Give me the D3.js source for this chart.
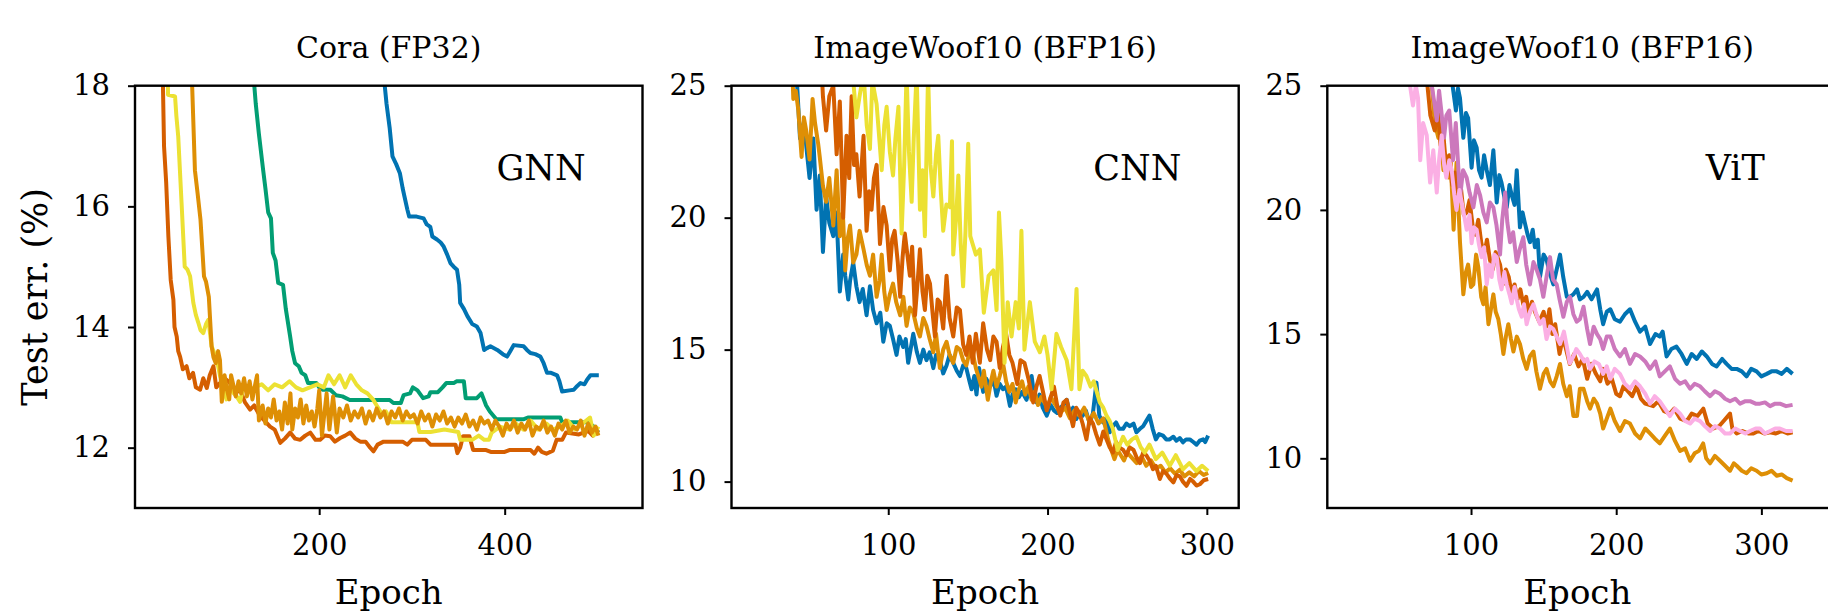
<!DOCTYPE html>
<html>
<head>
<meta charset="utf-8">
<script src="https://cdn.jsdelivr.net/npm/d3@7"></script>
<style>
  body { margin: 0; background: #fff; }
  svg { display: block; }
  text { font-family: "DejaVu Serif", "Liberation Serif", serif; fill: #000; }
</style>
</head>
<body>
<div id="chart"></div>
<script>
/* global d3 */

// ---- data: [epoch, test error %] ----

// Cora (FP32), GNN
var coraBlue = [[267,20],[269.4,18.2],[272.6,17.7],[276,17.3],[279,16.83],[283,16.7],[287,16.55],[290,16.3],[292,16.16],[295,15.95],[297,15.83],[305,15.83],[312.6,15.8],[316,15.7],[319.8,15.66],[322,15.5],[327,15.45],[331,15.4],[334,15.34],[338,15.2],[341.5,15.06],[345,15.0],[348.6,14.95],[351,14.7],[352,14.4],[356,14.3],[359.8,14.18],[365,14.05],[370,14.01],[374,13.9],[377.8,13.62],[381,13.65],[384.6,13.68],[392,13.62],[398,13.55],[402.6,13.51],[406,13.6],[409.8,13.7],[420.5,13.68],[424,13.62],[427.7,13.57],[433,13.55],[438.5,13.51],[442,13.4],[445.7,13.24],[450,13.24],[456.5,13.2],[459,13.1],[461.9,12.93],[470,12.95],[474.5,12.96],[478,13.02],[481.7,13.07],[486,13.05],[489,13.13],[492.5,13.2],[501.5,13.2]];
var coraGreen = [[127,20],[129,18.2],[131.6,17.7],[135,17.2],[139.6,16.6],[142,16.3],[145,15.9],[148,15.8],[150,15.23],[153,15.1],[155.8,14.73],[161,14.7],[164,14.3],[168.7,13.84],[171,13.6],[174,13.4],[178,13.35],[181,13.24],[185,13.2],[188,13.07],[197,13.07],[200,13.0],[204,12.96],[212,12.96],[218,12.87],[225,12.85],[233,12.79],[250,12.79],[276,12.79],[280,12.74],[288,12.74],[291,12.87],[298,12.9],[301,13.0],[306,12.95],[312,12.82],[318,12.85],[320,12.92],[328,12.92],[333,13.0],[337,13.07],[345,13.07],[348,13.1],[356,13.1],[358,12.82],[370,12.82],[375,12.9],[380,12.7],[384,12.6],[391,12.47],[420,12.47],[425,12.5],[460,12.5],[462,12.42],[490,12.42],[496,12.35],[501,12.25]];
var coraVermilion = [[29,20],[31.3,18.2],[32.7,17.0],[35,16.4],[37.4,15.5],[39.9,14.78],[42.8,14.45],[44,14.0],[46.4,13.84],[48,13.6],[50,13.51],[53,13.3],[57,13.35],[60,13.15],[64,13.24],[67,13.0],[71.6,12.96],[75,13.15],[78.8,12.99],[82,13.2],[86,13.35],[89,13.0],[93,13.07],[98,13.15],[104,13.07],[109,12.9],[114.7,12.96],[120,12.75],[125.5,12.63],[130,12.7],[136.3,12.52],[141,12.45],[147,12.35],[152,12.3],[158,12.08],[163,12.15],[168.7,12.25],[174,12.15],[179.6,12.13],[185,12.2],[190.4,12.25],[196,12.13],[201,12.13],[206,12.2],[211.9,12.19],[217,12.1],[222.7,12.16],[228,12.2],[233.5,12.25],[239,12.15],[244.3,12.1],[250,12.1],[255,12.0],[258.6,11.94],[263,12.05],[269.4,12.1],[280,12.1],[290,12.1],[295,12.05],[300,12.13],[315,12.13],[320,12.05],[335,12.05],[347,12.05],[349,11.91],[352,12.0],[355,12.19],[362,12.19],[366,11.96],[380,11.96],[385,11.93],[400,11.93],[405,11.96],[420,11.96],[428,11.96],[432,11.9],[436,12.0],[440,11.93],[445,11.9],[452,11.95],[456,12.13],[462,12.13],[466,12.25],[480,12.22],[490,12.28],[495,12.2],[501,12.3]];
var coraYellow = [[35,20],[37,17.85],[44.6,17.82],[46,17.5],[48,17.16],[51.6,16.06],[55,15.0],[58,14.95],[60.8,14.84],[64.3,14.4],[67,14.2],[69.7,14.07],[72,13.95],[75,13.9],[78,14.05],[80.5,14.12],[84,13.68],[89.6,13.46],[93,13.2],[96,13.05],[100,12.8],[104,13.0],[108,12.9],[111,12.85],[114.7,12.76],[118,13.0],[125,12.95],[130,13.0],[138,13.05],[145,12.95],[152,13.05],[160,13.0],[168,13.1],[175,13.0],[182,12.95],[190,13.0],[198,13.05],[205,13.0],[210,13.2],[216,13.05],[222,13.2],[228,13.0],[234,13.2],[240,13.05],[246,12.95],[252,12.9],[258,12.8],[262,12.7],[268,12.55],[272,12.6],[278,12.42],[290,12.42],[306,12.42],[308,12.26],[320,12.26],[335,12.3],[350,12.26],[352,12.13],[365,12.13],[372,12.2],[378,12.13],[383,12.13],[386,12.25],[395,12.35],[405,12.3],[412,12.4],[420,12.3],[428,12.45],[436,12.3],[445,12.4],[452,12.3],[460,12.35],[468,12.45],[476,12.3],[484,12.4],[492,12.5],[496,12.2],[501,12.35]];
var coraOrange = [[60,20],[62.6,18.2],[66,16.6],[69,16.2],[72,15.78],[75.8,14.84],[78,14.75],[81,14.5],[84,13.68],[86,13.5],[88.5,13.4],[91,13.6],[93,13.45],[95,12.76],[98,13.2],[100,13.0],[103,12.8],[105,13.2],[108,13.0],[110,12.85],[113,13.1],[116,12.9],[119,13.15],[122,12.85],[125,13.1],[128,12.8],[131,13.05],[133,13.2],[135,12.45],[139,12.7],[142,12.4],[145,12.65],[148,12.5],[151,12.8],[154,12.45],[157,12.6],[160,12.3],[163,12.75],[166,12.4],[169,12.9],[171,12.3],[174,12.65],[177,12.5],[180,12.8],[183,12.4],[186,12.7],[189,12.45],[192,12.6],[195,12.35],[198,12.65],[200,12.95],[203,12.2],[208,12.9],[211,12.3],[215,12.85],[219,12.25],[222,12.65],[226,12.5],[230,12.7],[234,12.45],[238,12.6],[242,12.5],[246,12.65],[250,12.4],[254,12.6],[258,12.45],[262,12.65],[266,12.5],[270,12.6],[274,12.4],[278,12.6],[282,12.5],[286,12.65],[290,12.45],[294,12.6],[298,12.5],[302,12.55],[306,12.4],[310,12.6],[314,12.45],[318,12.55],[322,12.35],[326,12.55],[330,12.45],[334,12.6],[338,12.4],[342,12.5],[346,12.35],[350,12.5],[354,12.4],[358,12.55],[362,12.35],[366,12.45],[370,12.3],[374,12.5],[378,12.4],[382,12.45],[386,12.3],[390,12.45],[394,12.35],[398,12.2],[402,12.4],[406,12.3],[410,12.45],[414,12.25],[418,12.4],[422,12.3],[426,12.45],[430,12.2],[434,12.35],[438,12.3],[442,12.45],[446,12.25],[450,12.35],[454,12.2],[458,12.4],[462,12.3],[466,12.45],[470,12.25],[474,12.35],[478,12.3],[482,12.45],[486,12.2],[490,12.4],[494,12.25],[498,12.35],[501,12.2]];

// ImageWoof10 (BFP16), CNN
var cnnBlue = [[41,27],[43,24.8],[44.6,23.0],[47,23.6],[50.6,21.5],[53,23.0],[55,20.3],[57,21.6],[59,18.7],[61,20.8],[63,19.8],[65.5,19.3],[67.5,20.2],[69.6,17.2],[71.7,18.6],[73,17.8],[74.9,16.9],[76,17.6],[78,18.3],[80,17.4],[82,16.8],[84,17.3],[86.4,16.3],[88.5,17.4],[90.5,16.5],[92.7,16.0],[95,16.4],[96.9,15.3],[99,16.0],[101,15.9],[103,15.4],[105.2,14.8],[107,15.5],[109.4,15.1],[111,15.4],[112.5,14.5],[114,15.0],[115.7,15.6],[118,14.9],[119.9,14.5],[122,15.0],[124,14.6],[126,14.9],[128.3,14.3],[130,14.8],[132.4,14.6],[134.5,14.1],[136.6,14.4],[138.5,14.8],[140.8,14.5],[143,14.2],[145,14.0],[147,14.4],[149,14.3],[151,13.8],[152.3,13.5],[154,14.0],[155.4,13.3],[157,14.3],[159.6,13.4],[161.5,13.9],[164,13.6],[166,13.9],[168,13.25],[170,13.7],[172,13.5],[174,13.6],[176.4,12.87],[178,13.3],[180,13.5],[182,13.2],[184,13.4],[186.8,13.1],[188.5,13.5],[190,14.0],[191.5,13.3],[193,13.0],[195,13.3],[197,12.8],[199.5,12.5],[202,12.9],[204,12.7],[206,12.6],[208,12.8],[210,12.9],[212,13.1],[213.9,12.6],[216,12.8],[218,12.37],[220,12.6],[222,12.5],[224,12.7],[226.5,12.2],[228.5,12.6],[230.7,13.75],[232.5,12.5],[234.9,12.24],[237,12.4],[239,11.87],[241,12.1],[243,12.24],[245,12.0],[247.4,12.0],[249.5,12.2],[251.6,12.1],[254,12.2],[255.8,11.87],[258,12.0],[260,12.1],[262,12.3],[264,12.5],[266,12.0],[268,11.6],[270,11.8],[272.5,11.74],[274.5,11.6],[276.7,11.6],[279,11.7],[280.9,11.55],[283,11.65],[285,11.49],[287,11.6],[289.3,11.6],[291.5,11.5],[293.5,11.4],[295.5,11.55],[297.7,11.6],[299,11.5],[300.8,11.74]];
var cnnOrange = [[39,27],[40.4,24.5],[42,24.8],[43.5,24.1],[45.6,22.3],[47,23.8],[48.5,23.3],[50.6,22.2],[52.5,24.5],[54,23.6],[56,22.8],[57,22.3],[59,21.2],[61,20.6],[63,21.5],[65.5,19.7],[67.6,21.8],[69.6,19.3],[71.5,20.2],[73,18.0],[74.5,19.2],[76,19.7],[78,18.3],[80,18.6],[82,19.5],[84.5,18.8],[86.5,18.2],[88.5,17.8],[90.5,18.6],[92.7,17.0],[94.5,17.6],[95.9,18.6],[97.5,17.2],[99,16.5],[101,17.1],[103,17.5],[105,16.8],[107.5,16.3],[109.5,17.0],[111.5,15.9],[113.5,16.6],[115.7,16.4],[118,15.8],[119.9,15.5],[122,16.2],[124,15.9],[126,15.4],[128.3,14.9],[130,15.6],[132.4,14.3],[134.5,15.0],[136.6,15.3],[138.5,14.8],[140.8,14.5],[143,15.1],[145,15.0],[147,14.6],[149,14.4],[151,14.9],[153.3,14.8],[155,14.3],[156.5,14.0],[158.5,13.6],[160,14.2],[162.5,13.1],[164.5,13.8],[166,14.2],[168,13.6],[170,14.0],[172,14.5],[174,13.8],[176,13.4],[178,13.7],[180,13.0],[182,13.5],[184,13.8],[186,13.3],[188,13.6],[190,13.1],[192,13.4],[194,12.9],[196,13.2],[198,13.0],[200,12.8],[202,13.2],[205,12.9],[208,12.6],[211,12.8],[214,12.4],[217,12.7],[220,12.5],[223,12.8],[226,12.3],[229,12.6],[232,12.2],[235,12.4],[238,11.6],[240,11.2],[242,10.85],[244,11.2],[246,11.0],[248,10.8],[250,11.1],[253,10.9],[256,10.7],[259,10.95],[262,10.6],[265,10.8],[268,10.5],[271,10.6],[274,10.35],[277,10.5],[280,10.3],[283,10.45],[286,10.2],[289,10.35],[292,10.2],[295,10.4],[298,10.25],[300.8,10.33]];
var cnnVermilion = [[57,27],[59,24.6],[61,23.3],[63,24.6],[65.5,25.0],[67.6,22.4],[69.6,24.4],[71.7,20.0],[73.8,23.1],[75.5,21.5],[77,24.6],[78.5,22.0],[80,22.4],[82,20.8],[84.5,23.1],[86.4,19.5],[88,21.0],[89.5,20.3],[91,21.5],[92.7,22.0],[94.8,19.0],[97,20.4],[99,19.7],[101,18.0],[102.5,19.2],[104,19.5],[106,18.3],[107.5,17.0],[109,18.5],[110.4,19.4],[112,18.6],[113.6,17.8],[115,18.9],[116.8,16.3],[118.5,17.6],[119.9,18.8],[121.5,17.2],[123,16.5],[124.5,17.8],[126.2,17.5],[127.8,16.4],[129.3,15.5],[131,16.9],[132.4,16.8],[134.5,15.8],[136.6,17.8],[138.5,16.2],[140.8,15.5],[143,16.6],[145,16.5],[147,15.2],[149,14.8],[151,15.5],[153,14.5],[155,15.6],[157.5,14.5],[159.6,16.0],[162,15.0],[164,14.6],[166,15.5],[168,15.3],[170,14.3],[172,15.1],[174,15.6],[176,14.8],[178,14.5],[181,13.7],[183,14.6],[185.5,14.5],[188,13.9],[191,13.0],[193,13.6],[195,14.0],[197.5,13.3],[199.5,12.7],[202,13.2],[204,13.6],[206,12.9],[208,12.5],[210,13.0],[212,13.1],[214,12.6],[216,12.1],[218,12.8],[220,12.6],[222,12.2],[224.4,11.6],[226.5,12.4],[228.5,12.2],[230.5,11.8],[232.8,11.4],[235,11.9],[237,11.6],[239,11.3],[241,11.1],[243,11.5],[245,11.3],[247.5,11.2],[249.5,11.0],[251.5,11.3],[254,11.2],[256,10.9],[258,10.7],[260,11.1],[262,11.0],[264,10.8],[266.2,10.47],[268,10.6],[270.5,10.1],[272.5,10.4],[274.6,10.3],[277,10.1],[279,9.97],[281,10.25],[283,10.2],[285,10.0],[287.2,9.84],[289.5,10.1],[291.4,10.0],[293.5,9.85],[295.6,9.9],[298,10.05],[300.8,10.1]];
var cnnYellow = [[76,27],[78,25.2],[80,23.8],[82,24.6],[84.5,25.5],[86.5,23.5],[88.5,22.6],[90,25.2],[92.7,24.3],[94.5,22.9],[95.9,21.8],[97.5,23.5],[99,24.2],[101,22.5],[103,21.6],[104.5,23.0],[106.4,24.2],[108.4,19.4],[110,22.0],[111.5,25.5],[113,22.5],[114.7,20.6],[116,23.0],[117.8,25.5],[119.9,20.3],[121.5,21.8],[123,19.3],[125,25.5],[126.5,22.0],[128.3,20.8],[130,22.4],[131.4,23.1],[133,21.0],[134.5,19.5],[136.5,20.5],[138.7,20.4],[140,22.9],[140.8,18.6],[142.5,19.9],[144,21.6],[145.5,19.0],[147,17.4],[148.5,19.5],[150.2,22.8],[151.5,19.3],[153,19.0],[155,18.6],[157.5,18.8],[160,16.4],[163,17.8],[166,18.0],[168,16.5],[169.5,20.2],[171,18.4],[173,14.5],[175,16.8],[177.4,15.5],[180,16.8],[182,15.8],[183.6,19.5],[185.5,15.0],[188.9,16.8],[192,15.3],[195.2,14.9],[198,15.5],[200,14.8],[202.5,13.5],[205.6,15.6],[208.5,15.1],[212,14.6],[215,13.5],[218.2,17.3],[220,13.5],[222,14.2],[224.4,14.0],[227,13.6],[229,13.8],[232.8,13.0],[235,12.8],[237,12.5],[239,12.3],[241,12.0],[244,11.2],[247.4,11.7],[250,11.4],[253,11.6],[255.8,11.7],[258.5,11.3],[261,11.1],[264,11.4],[268,10.85],[272,11.1],[276.7,10.6],[280.5,11.0],[285,10.47],[289,10.7],[293.5,10.4],[297,10.6],[300.8,10.4]];

// ImageWoof10 (BFP16), ViT
var vitBlue = [[85,27],[87.3,25.0],[89.6,24.0],[91,24.9],[92.4,24.5],[94.7,22.9],[96.5,23.9],[98,23.7],[100.4,21.7],[102,22.8],[103.9,22.5],[105.5,21.6],[107.3,21.3],[109,22.2],[110.8,21.6],[113,21.0],[115.4,22.4],[117.7,20.3],[119.5,21.4],[121,21.1],[123,20.5],[124.6,20.1],[126.5,21.0],[128,20.6],[130,20.2],[131.5,21.6],[133.7,19.3],[135.5,19.9],[137,19.5],[139,19.0],[140.6,18.7],[142.5,19.2],[144,18.5],[146,18.8],[147.5,17.3],[150,18.2],[152,18.0],[154.5,17.4],[156.7,17.0],[159,17.6],[161.3,18.2],[163.5,17.3],[166,16.5],[168,16.5],[170.5,16.6],[173,16.8],[175,16.4],[177.5,16.5],[180,16.7],[183,16.4],[186.8,16.8],[189,16.0],[191,15.4],[193.5,15.9],[196,16.0],[199,15.6],[202.6,15.5],[206,15.8],[209.5,16.0],[213,15.5],[216.4,15.1],[220,15.3],[223.3,14.6],[227,15.0],[230,14.9],[232,15.1],[234.7,14.1],[238,14.4],[241.5,14.5],[245,14.2],[248.6,13.8],[252,14.2],[255.5,14.0],[259,14.3],[262.4,14.1],[266,13.8],[269.2,13.7],[273,14.0],[276,13.8],[279.5,13.6],[283,13.6],[286.5,13.5],[289.8,13.3],[293,13.6],[296.7,13.5],[300,13.3],[303.7,13.4],[307,13.5],[310.6,13.5],[314,13.4],[317.5,13.6],[321.5,13.4]];
var vitOrange = [[71,27],[73,25.0],[75,23.5],[77.5,22.9],[79,23.4],[81,21.6],[82.5,22.2],[84.4,21.3],[86,22.0],[88,19.2],[90,21.9],[92.4,18.7],[94.7,16.6],[96.5,17.5],[98,17.8],[100,16.9],[101.6,17.0],[103.5,18.2],[105,17.7],[107,16.5],[108.5,16.2],[110,16.9],[112,15.4],[114,16.1],[115.4,16.6],[117,15.9],[118.8,15.6],[120.5,15.0],[122.3,14.2],[124,14.9],[125.7,15.4],[127.5,14.8],[129.2,14.3],[131.5,14.9],[133.7,14.6],[136,14.0],[138.3,13.6],[140.5,14.1],[143,14.3],[145,13.5],[147.5,12.8],[150,13.4],[152,13.6],[154.5,13.1],[156.7,12.9],[159,13.3],[161.3,13.8],[163.5,13.0],[166,12.5],[168,12.9],[170.5,11.7],[173,11.7],[175,12.8],[177.5,12.8],[180,12.3],[182,12.0],[184.5,12.4],[186.8,12.2],[189,11.8],[191,11.2],[193.5,11.6],[196,12.0],[199,11.5],[202.6,11.1],[206,11.5],[209.5,11.4],[213,11.0],[216.4,10.8],[220,11.2],[223.3,11.0],[226.5,10.8],[230,10.6],[233.5,10.9],[237,11.2],[240.5,10.7],[244,10.3],[247.5,10.4],[250.9,9.9],[254,10.2],[257,10.3],[259.9,10.6],[262,10.0],[264.7,9.8],[268,10.1],[271.5,9.9],[275,9.7],[278.4,9.5],[281,9.8],[283,9.7],[286.5,9.5],[289.8,9.4],[293,9.6],[296.7,9.5],[300,9.35],[303.7,9.4],[307,9.5],[310.6,9.3],[314,9.35],[317.5,9.2],[321.5,9.1]];
var vitVermilion = [[68,27],[70,25.0],[72,23.8],[75,23.2],[77,24.2],[79,22.6],[81,23.0],[83,21.6],[85,22.2],[87,21.0],[89,21.5],[91,20.5],[93,20.9],[95,19.8],[97,19.9],[99,20.4],[101,19.4],[103,19.0],[105,19.6],[107,18.7],[109,18.2],[111,18.8],[113,18.0],[115,17.6],[117,18.3],[120,17.8],[122,17.0],[124,17.6],[126,17.3],[128,16.6],[130,17.0],[132,16.4],[134,16.8],[136,16.2],[138,16.5],[140,15.8],[142,16.3],[144,15.9],[147,15.5],[150,15.9],[152,15.3],[154,16.0],[156,15.0],[158,15.4],[161,14.2],[163,14.8],[165,14.5],[168,13.8],[171,14.2],[174,13.7],[177,14.0],[180,13.2],[183,13.8],[186,13.4],[189,13.1],[191,13.6],[194,13.0],[197,13.2],[200,12.6],[202.6,12.5],[205,12.9],[208,12.7],[211,12.5],[214,12.9],[217,12.4],[220,12.2],[225.5,12.1],[229,12.3],[233,11.9],[237,11.8],[240,12.0],[244,11.6],[248.6,11.5],[252,11.8],[256,11.7],[260,12.0],[263,11.4],[267,11.2],[271,11.3],[274,11.5],[278.4,11.8],[280,11.2],[283,11.0],[287,11.1],[291,11.0],[294.5,11.0],[298,11.1],[302,11.0],[306,11.05],[310,11.0],[314,11.1],[318,11.0],[321.5,11.05]];
var vitPurple = [[71,27],[73,25.0],[75,24.2],[76.4,23.6],[78,24.8],[79.5,24.0],[81.4,22.9],[83,23.8],[85,24.0],[87.6,22.0],[89.5,23.5],[92.4,20.5],[94.5,21.6],[97,21.3],[99,20.7],[101.6,20.1],[104,21.0],[106.2,20.6],[108.5,19.9],[110.8,19.5],[113,20.3],[115.4,20.1],[117.5,19.4],[120,18.2],[121.5,19.6],[123.5,20.7],[125,19.5],[126.9,18.7],[129,19.1],[131.5,17.9],[133.5,18.4],[136,18.9],[138,17.8],[140.6,17.0],[143,17.9],[145.2,17.6],[147.5,17.2],[149.8,16.5],[152,17.3],[154.4,18.1],[156.5,17.2],[159,17.0],[161,16.4],[163.6,15.7],[166,16.3],[168.2,16.5],[170.5,15.8],[172.8,15.5],[175,15.6],[177.5,16.1],[180,15.2],[182,14.6],[184.5,15.3],[186.8,15.0],[189,14.8],[191,14.4],[193.5,14.9],[196,14.9],[199,14.4],[202.6,14.1],[206,14.4],[209.5,13.8],[213,14.2],[216.4,14.1],[220,13.9],[223.3,13.6],[227,13.9],[230,13.3],[233.5,13.5],[237,13.7],[240.5,13.2],[244,13.0],[247.5,13.1],[250.9,12.8],[254,13.0],[257.8,12.9],[261,12.7],[264.7,12.5],[268,12.7],[271.5,12.6],[275,12.4],[278.4,12.3],[282,12.4],[285.3,12.2],[289,12.3],[292.2,12.3],[296,12.2],[299,12.2],[302.5,12.25],[306,12.1],[309.5,12.2],[312.8,12.2],[317,12.1],[321.5,12.15]];
var vitPink = [[56,27],[58,25.0],[60,24.2],[62,25.0],[63.5,24.5],[65,22.0],[67,23.5],[69.5,23.0],[71.8,21.1],[74,22.4],[76.4,20.7],[78,22.0],[79.8,23.0],[81.5,21.8],[83,21.3],[85,22.0],[86.7,21.6],[88.5,20.6],[90,20.0],[92,20.8],[93.6,20.3],[95.5,19.7],[97,19.2],[99,19.8],[100.4,18.66],[102,19.3],[103.9,19.2],[105.5,18.6],[107.3,18.1],[109,18.5],[110.8,17.0],[112.5,17.8],[114.2,17.3],[116,18.2],[117.7,18.1],[119.5,17.2],[121,16.8],[123,17.5],[124.6,17.0],[126.5,16.6],[128,16.24],[130,16.9],[131.5,16.4],[133,16.0],[134.9,15.7],[136.5,16.2],[138.3,15.4],[140.5,15.9],[143,16.2],[145,15.8],[147.5,15.4],[150,15.6],[152,14.8],[154.5,15.3],[156.7,15.2],[159,14.9],[161.3,14.6],[164,15.1],[166,14.5],[168,13.83],[170.5,14.1],[172.5,14.4],[175,14.2],[178,13.9],[180,14.0],[182,13.6],[185,13.9],[188,13.8],[191,13.4],[193.5,13.7],[196,13.2],[199,13.6],[202.6,13.4],[206,13.0],[209.5,12.8],[213,13.1],[216.4,12.9],[220,12.6],[223.3,12.2],[226.5,12.5],[230,12.3],[233.5,12.0],[237,11.7],[240.5,12.0],[244,11.8],[247.5,11.5],[250.9,11.4],[254,11.6],[257.8,11.5],[261,11.3],[264.7,11.1],[268,11.3],[271.5,11.2],[275,11.0],[278.4,11.0],[282,11.2],[285.3,11.1],[289,11.0],[292.2,11.1],[296,11.2],[299,11.2],[302.5,11.0],[306,11.1],[309.5,11.2],[312.8,11.2],[317,11.1],[321.5,11.1]];

// tick labels
var coraXTicks = [200, 400];
var coraYTicks = [12, 14, 16, 18];
var woofXTicks = [100, 200, 300];
var woofYTicks = [10, 15, 20, 25];

// colorblind palette
var BLUE = "#0173b2", ORANGE = "#de8f05", GREEN = "#029e73",
    VERMILION = "#d55e00", YELLOW = "#ece133", PURPLE = "#cc78bc", PINK = "#fbafe4";

// ---- layout ----
var W = 1828, H = 611;
var TOP = 85.7, BOTTOM = 508;

var panels = [
  {
    left: 135, width: 507.5, xDomain: [1.4, 548.6], yDomain: [11, 18],
    xTicks: coraXTicks, yTicks: coraYTicks, title: "Cora (FP32)", tag: "GNN",
    series: [[coraBlue, BLUE], [coraGreen, GREEN], [coraVermilion, VERMILION], [coraYellow, YELLOW], [coraOrange, ORANGE]]
  },
  {
    left: 731.5, width: 507.2, xDomain: [1.6, 320], yDomain: [9, 25],
    xTicks: woofXTicks, yTicks: woofYTicks, title: "ImageWoof10 (BFP16)", tag: "CNN",
    series: [[cnnBlue, BLUE], [cnnOrange, ORANGE], [cnnVermilion, VERMILION], [cnnYellow, YELLOW]]
  },
  {
    left: 1327.3, width: 510, xDomain: [1, 352.3], yDomain: [8, 25],
    xTicks: woofXTicks, yTicks: woofYTicks, title: "ImageWoof10 (BFP16)", tag: "ViT",
    series: [[vitBlue, BLUE], [vitOrange, ORANGE], [vitVermilion, VERMILION], [vitPurple, PURPLE], [vitPink, PINK]]
  }
];

var svg = d3.select("#chart")
  .append("svg")
  .attr("width", W)
  .attr("height", H);

var drawPanel = function(p, i) {
  var h = BOTTOM - TOP;
  var x = d3.scaleLinear().domain(p.xDomain).range([0, p.width]);
  var y = d3.scaleLinear().domain(p.yDomain).range([h, 0]);

  var g = svg.append("g")
    .attr("transform", "translate(" + p.left + "," + TOP + ")");

  g.append("clipPath")
    .attr("id", "clip" + i)
    .append("rect")
    .attr("width", p.width)
    .attr("height", h);

  var line = d3.line()
    .x(function(d) { return x(d[0]); })
    .y(function(d) { return y(d[1]); });

  var lines = g.append("g").attr("clip-path", "url(#clip" + i + ")");
  p.series.forEach(function(s) {
    lines.append("path")
      .datum(s[0])
      .attr("d", line)
      .attr("fill", "none")
      .attr("stroke", s[1])
      .attr("stroke-width", 4)
      .attr("stroke-linejoin", "round");
  });

  var xAxis = g.append("g")
    .attr("transform", "translate(0," + h + ")")
    .call(d3.axisBottom(x).tickValues(p.xTicks).tickSize(7).tickPadding(19).tickFormat(d3.format("d")));
  var yAxis = g.append("g")
    .call(d3.axisLeft(y).tickValues(p.yTicks).tickSize(7).tickPadding(18).tickFormat(d3.format("d")));

  [xAxis, yAxis].forEach(function(a) {
    a.select(".domain").remove();
    a.selectAll(".tick line").attr("stroke", "#000").attr("stroke-width", 2);
    a.selectAll(".tick text")
      .attr("fill", "#000")
      .style("font-family", "'DejaVu Serif', serif")
      .style("font-size", "29px");
  });

  g.append("rect")
    .attr("width", p.width)
    .attr("height", h)
    .attr("fill", "none")
    .attr("stroke", "#000")
    .attr("stroke-width", 2.4);

  svg.append("text")
    .attr("x", p.left + p.width / 2)
    .attr("y", 58)
    .attr("text-anchor", "middle")
    .style("font-size", "30px")
    .text(p.title);

  g.append("text")
    .attr("x", p.width * 0.8)
    .attr("y", 180 - TOP)
    .attr("text-anchor", "middle")
    .style("font-size", "35px")
    .text(p.tag);

  svg.append("text")
    .attr("x", p.left + (i === 2 ? 500 : p.width) / 2)
    .attr("y", 604)
    .attr("text-anchor", "middle")
    .style("font-size", "34px")
    .text("Epoch");
};

panels.forEach(drawPanel);

svg.append("text")
  .attr("transform", "translate(47," + (TOP + BOTTOM) / 2 + ") rotate(-90)")
  .attr("text-anchor", "middle")
  .style("font-size", "35px")
  .text("Test err. (%)");
</script>
</body>
</html>
